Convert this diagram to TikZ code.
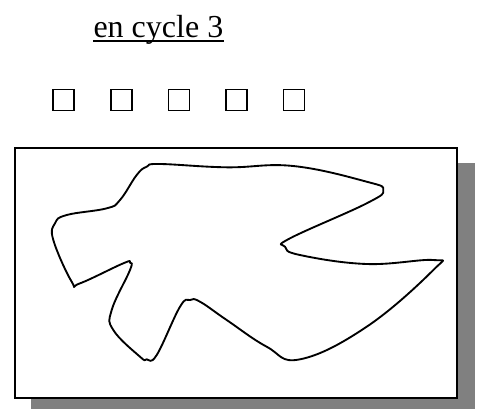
\documentclass[tikz,border=0pt]{standalone}
\usepackage{fontspec}
\setmainfont{Liberation Serif}
\usepackage{tikz}

\begin{document}
\begin{tikzpicture}[x=0.375pt,y=-0.375pt,
    box/.style={draw,line width=0.65pt,minimum size=7.9pt,inner sep=0pt},
    blob/.style={line width=0.7pt,line join=round}]
  \useasboundingbox (0,0) rectangle (479,410);
  % title
  \node[anchor=base west,inner sep=0pt,font=\fontsize{12}{14}\selectfont] (title) at (93,37) {en cycle 3};
  \draw[line width=0.45pt] ([yshift=-1.5pt]title.base west) -- ([yshift=-1.5pt]title.base east);
  % row of boxes
  \foreach \i/\x in {1/63.5,2/121.5,3/179,4/236.5,5/294}
    \node[box] (sq\i) at (\x,100) {};
  % frame with shadow
  \fill[black!50] (31,163) rectangle (475,409);
  \node[draw,fill=white,line width=0.75pt,inner sep=0pt,minimum width=165.75pt,minimum height=93.75pt] (frame) at (236,273) {};
  \draw[blob] plot[smooth cycle,tension=0.7] coordinates {
    (160,164) (226.7,167.3) (293.3,166) (366.7,181.7) (383.3,190)
    (366.7,203.3) (290,238.3) (285,246.7) (300,255) (366.7,264)
    (433.3,260) (433.3,270) (366.7,326.7) (300,359.3) (266.7,346.7)
    (226.7,320) (200,301.7) (190,300) (180,306.7) (156.7,355)
    (146.7,359.3) (140,356.7) (113.3,330) (111.7,310) (130,270)
    (130,262.7) (123.3,263.3) (80,283.3) (71.7,281.7) (53.3,240)
    (55,223.3) (66.7,215) (106.7,208.3) (120,200) (136.7,175) (146.7,166.7)};
\end{tikzpicture}
\end{document}
